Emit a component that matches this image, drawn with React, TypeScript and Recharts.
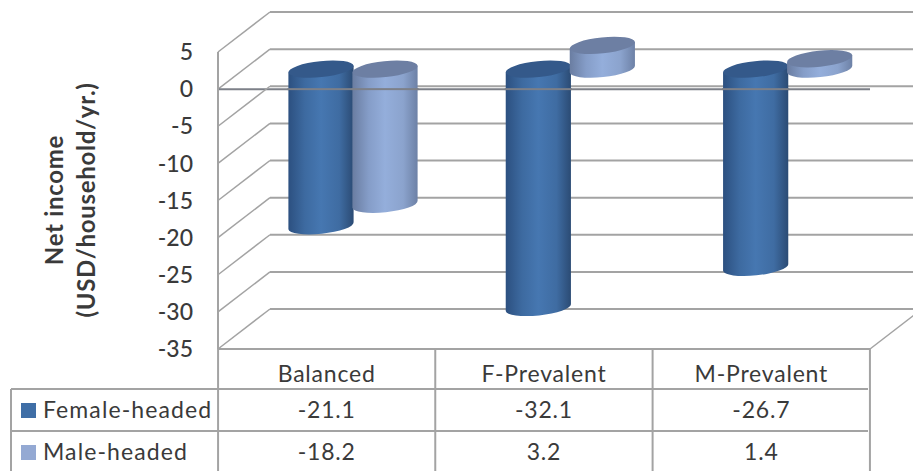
import { BarChart, Bar, XAxis, YAxis, CartesianGrid } from "recharts";

const categories = ["Balanced", "F-Prevalent", "M-Prevalent"];
const femaleHeaded = [-21.1, -32.1, -26.7];
const maleHeaded = [-18.2, 3.2, 1.4];
const yTicks = [5, 0, -5, -10, -15, -20, -25, -30, -35];

const data = categories.map((name, i) => ({
  name,
  female: femaleHeaded[i],
  male: maleHeaded[i],
}));

const GRID = "#a3a3a3";
const ZERO_LINE = "#7d8088";
const TEXT = "#3a3a3a";
const FONT = "Lato, sans-serif";

// offset of the back wall from the front plane of the box
const DEPTH_X = 52;
const DEPTH_Y = 40;

const TILT = 6;
const RY = 8;

function Cylinder(props: any) {
  const { x, y, width, height, gradient, cap } = props;
  const rad = (TILT * Math.PI) / 180;
  // neighbours overlap by a pixel so no white seam shows between them
  const dx = width / 2 + 0.6;
  const rx = dx / Math.cos(rad);
  const dy = rx * Math.sin(rad);
  const cx = x + width / 2 + DEPTH_X / 2;
  const frontTop = Math.min(y, y + height);
  const top = frontTop - DEPTH_Y / 2;
  const bottom = Math.max(y, y + height) - DEPTH_Y / 2;
  const side =
    `M${cx - dx},${top + dy} L${cx - dx},${bottom + dy} ` +
    `A${rx},${RY} ${-TILT} 0 0 ${cx + dx},${bottom - dy} ` +
    `L${cx + dx},${top - dy} Z`;
  // columns hanging below zero pass behind the front axis line
  const crossesZero = bottom - top > DEPTH_Y;
  return (
    <g>
      <path d={side} fill={`url(#${gradient})`} />
      <ellipse
        cx={cx}
        cy={top}
        rx={rx}
        ry={RY}
        fill={cap}
        transform={`rotate(${-TILT} ${cx} ${top})`}
      />
      {crossesZero && (
        <rect x={cx - dx - 1} y={frontTop - 1} width={2 * dx + 2} height={2} fill={ZERO_LINE} />
      )}
    </g>
  );
}

// gridline on the back wall plus its diagonal along the left wall
function BoxLine(props: any) {
  const { x1, y1, x2, y2 } = props;
  const isFloor = y1 > 340;
  const isZero = Math.abs(y1 - 89) < 2;
  return (
    <g stroke={GRID} fill="none">
      <line x1={x1} y1={y1} x2={x1 + DEPTH_X} y2={y1 - DEPTH_Y} strokeWidth={1.5} />
      <line x1={x1 + DEPTH_X} y1={y1 - DEPTH_Y} x2={x2 + DEPTH_X} y2={y2 - DEPTH_Y} strokeWidth={2} />
      {isZero && <line x1={x1} y1={y1} x2={x2} y2={y2} stroke={ZERO_LINE} strokeWidth={2} />}
      {isFloor && <line x1={x2} y1={y2} x2={x2 + DEPTH_X} y2={y2 - DEPTH_Y} strokeWidth={1.5} />}
    </g>
  );
}

const rowBaselines = [418, 460];
const rowRules = [389, 431];

// category label and the data table column under it
function TableColumn(props: any) {
  const { x, y, payload, index } = props;
  const half = 108.6;
  const textStyle = { fontFamily: FONT, fontSize: 23, fill: TEXT, letterSpacing: 0.8 };
  const headStyle = { ...textStyle, letterSpacing: 1.1 };
  const left = x - half;
  const right = x + half;
  return (
    <g>
      <line x1={right} y1={y} x2={right} y2={471} stroke={GRID} strokeWidth={2} />
      {index === 0 && (
        <g>
          <line x1={left} y1={y} x2={left} y2={471} stroke={GRID} strokeWidth={2} />
          <line x1={11} y1={rowRules[0]} x2={11} y2={471} stroke={GRID} strokeWidth={2} />
          <line x1={11} y1={rowRules[0]} x2={868} y2={rowRules[0]} stroke={GRID} strokeWidth={2} />
          <line x1={11} y1={rowRules[1]} x2={868} y2={rowRules[1]} stroke={GRID} strokeWidth={2} />
          <rect x={21} y={403} width={15} height={15} fill="#3f6ea6" />
          <rect x={21} y={445} width={15} height={15} fill="#94a9d3" />
          <text x={43} y={rowBaselines[0]} {...headStyle}>Female-headed</text>
          <text x={43} y={rowBaselines[1]} {...headStyle}>Male-headed</text>
        </g>
      )}
      <text x={x} y={382} textAnchor="middle" {...textStyle}>{payload.value}</text>
      <text x={x} y={rowBaselines[0]} textAnchor="middle" {...textStyle}>{femaleHeaded[index]}</text>
      <text x={x} y={rowBaselines[1]} textAnchor="middle" {...textStyle}>{maleHeaded[index]}</text>
    </g>
  );
}

function AxisTitle() {
  const style = { fontFamily: FONT, fontSize: 24, fontWeight: 700, fill: TEXT, letterSpacing: 0.7 };
  return (
    <g>
      <text transform="translate(63 200) rotate(-90)" textAnchor="middle" {...style}>Net income</text>
      <text transform="translate(95 200) rotate(-90)" textAnchor="middle" {...style}>(USD/household/yr.)</text>
    </g>
  );
}

export default function App() {
  return (
    <div style={{ position: "absolute", left: 0, top: 0 }}>
      <BarChart
        width={913}
        height={471}
        data={data}
        margin={{ top: 52, right: 43, bottom: 0, left: 158 }}
        barSize={64}
        barGap={0}
      >
        <defs>
          <linearGradient id="femaleSide" x1="0" y1="0" x2="1" y2="0">
            <stop offset="0%" stopColor="#2c5080" />
            <stop offset="25%" stopColor="#3d6aa0" />
            <stop offset="50%" stopColor="#4677b1" />
            <stop offset="78%" stopColor="#3f6ca2" />
            <stop offset="100%" stopColor="#2b4b74" />
          </linearGradient>
          <linearGradient id="maleSide" x1="0" y1="0" x2="1" y2="0">
            <stop offset="0%" stopColor="#6a7da1" />
            <stop offset="25%" stopColor="#859dc8" />
            <stop offset="50%" stopColor="#94aedb" />
            <stop offset="78%" stopColor="#8ba3cd" />
            <stop offset="100%" stopColor="#6d81a6" />
          </linearGradient>
        </defs>
        <CartesianGrid horizontal={BoxLine} vertical={false} />
        <XAxis
          dataKey="name"
          orientation="bottom"
          height={122}
          interval={0}
          tickLine={false}
          axisLine={{ stroke: GRID, strokeWidth: 2 }}
          tick={TableColumn}
          tickSize={0}
          tickMargin={0}
        />
        <YAxis
          domain={[-35, 5]}
          ticks={yTicks}
          width={60}
          interval={0}
          tickLine={false}
          tickSize={0}
          tickMargin={25}
          axisLine={{ stroke: GRID, strokeWidth: 2 }}
          tick={{ fontFamily: FONT, fontSize: 23, fontWeight: 500, fill: TEXT }}
          label={{ content: AxisTitle }}
        />
        <Bar
          dataKey="female"
          isAnimationActive={false}
          shape={(p: any) => <Cylinder {...p} gradient="femaleSide" cap="#34598a" />}
        />
        <Bar
          dataKey="male"
          isAnimationActive={false}
          shape={(p: any) => <Cylinder {...p} gradient="maleSide" cap="#6d7fa3" />}
        />
      </BarChart>
    </div>
  );
}
